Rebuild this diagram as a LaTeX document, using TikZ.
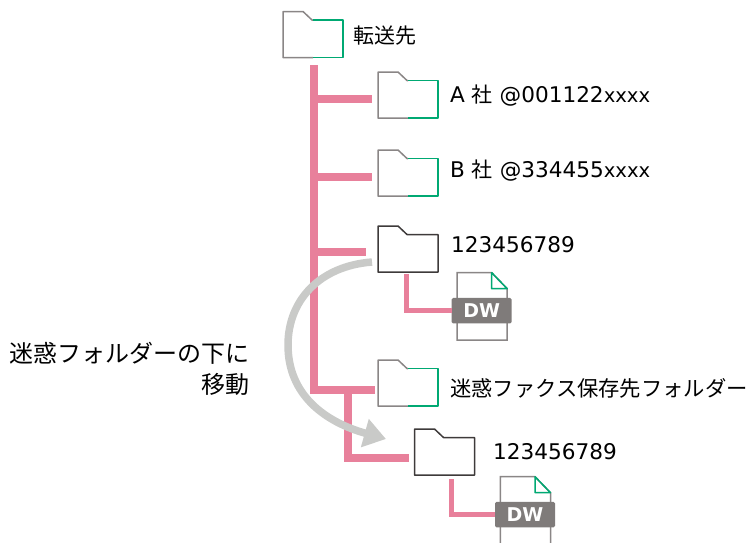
\documentclass[tikz,border=0pt]{standalone}
\usepackage{fontspec}
\setmainfont{DejaVu Sans}
\newfontfamily\jp{Noto Sans CJK JP}
\usetikzlibrary{arrows.meta}
\definecolor{treepink}{HTML}{E8809B}
\definecolor{foldgreen}{HTML}{00A973}
\definecolor{foldgray}{HTML}{8A8686}
\definecolor{folddark}{HTML}{3E3A3A}
\definecolor{movegray}{HTML}{C9CAC8}
\definecolor{bandgray}{HTML}{7F7B7A}
\tikzset{
	treeline/.style={line width=8pt, color=treepink},
	fileline/.style={line width=5pt, color=treepink},
	moveline/.style={line width=7.5pt, color=movegray, -{Triangle[length=22pt,width=28pt]}},
	label/.style={anchor=west, inner sep=0pt, font=\fontsize{21.6}{24}\selectfont},
	note/.style={anchor=east, inner sep=0pt, font=\jp\fontsize{24}{28}\selectfont},
	foldbox/.style={minimum width=60pt, minimum height=38pt, inner sep=0pt},
}
\newcommand{\folder}[4][foldgreen] % [right side colour]{name}{x}{y}
{
	\node [foldbox] (#2) at (#3+30,#4+27) {};
	\draw [line width=1.5pt, color=foldgray, line join=round] (#3+30,#4+46) -- (#3,#4+46) -- (#3,#4) -- (#3+20,#4) -- (#3+29,#4+8.5) -- (#3+30,#4+8.5);
	\draw [line width=1.5pt, color=#1, line join=round] (#3+30,#4+8.5) -- (#3+60,#4+8.5) -- (#3+60,#4+46) -- (#3+30,#4+46);
}
\newcommand{\darkfolder}[3] % {name}{x}{y}
{
	\node [foldbox] (#1) at (#2+30,#3+27) {};
	\draw [line width=1.5pt, color=folddark, line join=round] (#2,#3) -- (#2+20,#3) -- (#2+29,#3+8.5) -- (#2+60,#3+8.5) -- (#2+60,#3+46) -- (#2,#3+46) -- cycle;
}
\newcommand{\dwfile}[3] % {name}{x}{y}
{
	\draw [line width=1.5pt, color=foldgray, fill=white] (#2+5.3,#3+67.3) -- (#2+5.3,#3) -- (#2+40,#3) -- (#2+55.5,#3+16) -- (#2+55.5,#3+67.3) -- cycle;
	\draw [line width=1.5pt, color=foldgreen, line join=round] (#2+40,#3) -- (#2+40,#3+16) -- (#2+55.5,#3+16) -- cycle;
	\node [minimum width=60pt, minimum height=25.5pt, inner sep=0pt, rounded corners=1.5pt, fill=bandgray, text=white, font=\bfseries\fontsize{19}{22}\selectfont] (#1) at (#2+30,#3+38) {DW};
}
\newcommand{\sha}{{\jp\fontsize{21}{24}\selectfont 社}}
\newcommand{\xes}{{\fontsize{19.6}{24}\selectfont xxxx}}

\begin{document}
\begin{tikzpicture}[x=1pt,y=-1pt]
	\useasboundingbox (0,0) rectangle (748,542);
	
	%folders
	\folder{root}{283}{11.5}
	\folder{companya}{378}{72}
	\folder{companyb}{378}{150}
	\darkfolder{moved}{378}{226}
	\folder{junk}{378}{360}
	\darkfolder{target}{414.5}{429}
	\dwfile{dwold}{451.7}{272.7}
	\dwfile{dwnew}{495}{476.7}
	
	\coordinate (trunk) at (314,65);
	\coordinate (fork) at (348,389);
	\coordinate (movestart) at (372,262);
	\coordinate (movebend) at (288,345);
	\coordinate (moveend) at (386,439);
	
	%tree
	\draw [treeline] (trunk) |- ([xshift=-3pt,yshift=-3pt]junk.west);
	\draw [treeline] (trunk |- companya.west) -- ([xshift=-6pt]companya.west);
	\draw [treeline] (trunk |- companyb.west) -- ([xshift=-6pt]companyb.west);
	\draw [treeline] (trunk |- moved.west) ++(0,-1) -- ([xshift=-12pt,yshift=1pt]moved.west);
	\draw [treeline] (fork) |- ([xshift=-5pt,yshift=-2pt]target.west);
	\draw [fileline] ([xshift=-1.3pt,yshift=-2pt]moved.south) |- (dwold.west);
	\draw [fileline] ([xshift=6.5pt,yshift=-4pt]target.south) |- (dwnew.west);
	
	%move
	\draw [moveline] (movestart) .. controls (320,266) and (288,300) .. (movebend) .. controls (288,395) and (325,422) .. (moveend);
	
	\node [label] (roottext) at (353,36) {\jp\fontsize{21}{24}\selectfont 転送先};
	\node [label] (atext) at (450,96) {A \sha{} @001122\xes};
	\node [label] (btext) at (450,171) {B \sha{} @334455\xes};
	\node [label] (movedtext) at (451,245) {123456789};
	\node [label] (junktext) at (450,388) {\jp\fontsize{21.3}{24}\selectfont 迷惑ファクス保存先フォルダー};
	\node [label] (targettext) at (493,452) {123456789};
	\node [note] (notea) at (250,353) {迷惑フォルダーの下に};
	\node [note] (noteb) at (250,384) {移動};
\end{tikzpicture}
\end{document}
